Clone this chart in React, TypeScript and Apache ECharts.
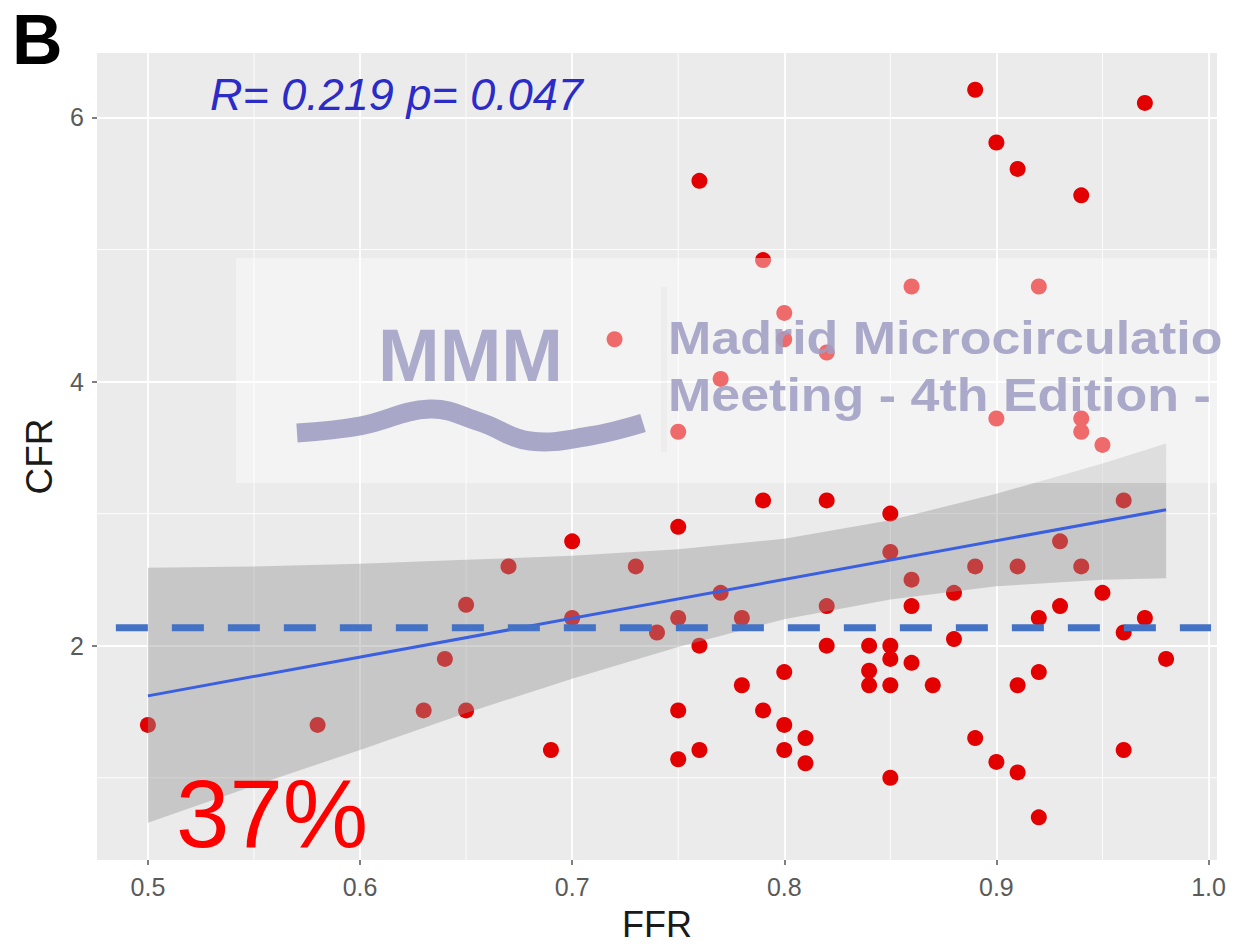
import React, { useEffect, useRef } from "react";
import * as echarts from "echarts";

const FONT = '"Liberation Sans", Arial, Helvetica, sans-serif';

// Scatter data: FFR (x) vs CFR (y)
const ffr = [
  0.50, 0.58, 0.63, 0.65, 0.64, 0.65, 0.67, 0.70, 0.70, 0.69,
  0.79, 0.82, 0.75, 0.85, 0.73, 0.85, 0.93, 0.89, 0.91, 0.94,
  0.96, 0.77, 0.86, 0.88, 0.95, 0.82, 0.86, 0.93, 0.75, 0.78,
  0.92, 0.97, 0.74, 0.96, 0.88, 0.76, 0.82, 0.84, 0.85, 0.85,
  0.86, 0.98, 0.80, 0.84, 0.92, 0.78, 0.84, 0.85, 0.87, 0.91,
  0.75, 0.79, 0.80, 0.81, 0.89, 0.75, 0.76, 0.80, 0.81, 0.96,
  0.90, 0.91, 0.85, 0.92,
  0.89, 0.97, 0.90, 0.91, 0.76, 0.94, 0.79, 0.86, 0.92, 0.80,
  0.72, 0.80, 0.82, 0.77, 0.75, 0.90, 0.94, 0.94, 0.95,
];
const cfr = [
  1.40, 1.40, 1.51, 1.51, 1.90, 2.31, 2.60, 2.79, 2.21, 1.21,
  3.10, 3.10, 2.90, 3.00, 2.60, 2.71, 2.79, 2.60, 2.60, 2.60,
  3.10, 2.40, 2.50, 2.40, 2.40, 2.30, 2.30, 2.30, 2.21, 2.21,
  2.21, 2.21, 2.10, 2.10, 2.05, 2.00, 2.00, 2.00, 2.00, 1.90,
  1.87, 1.90, 1.80, 1.81, 1.80, 1.70, 1.70, 1.70, 1.70, 1.70,
  1.51, 1.51, 1.40, 1.30, 1.30, 1.14, 1.21, 1.21, 1.11, 1.21,
  1.12, 1.04, 1.00, 0.70,
  6.21, 6.11, 5.81, 5.61, 5.52, 5.41, 4.92, 4.72, 4.72, 4.52,
  4.32, 4.32, 4.22, 4.02, 3.62, 3.72, 3.72, 3.62, 3.52,
];

// Axis ticks
const xTicks = [0.5, 0.6, 0.7, 0.8, 0.9, 1.0];
const xMinor = [0.55, 0.65, 0.75, 0.85, 0.95];
const yTicks = [2, 4, 6];
const yMinor = [1, 3, 5];

// Linear fit and its confidence band
const fitX = [0.5, 0.98];
const fitY = [1.62, 3.03];
const bandX = [0.50, 0.55, 0.60, 0.65, 0.70, 0.75, 0.80, 0.85, 0.90, 0.95, 0.98];
const bandUpper = [2.59, 2.60, 2.62, 2.65, 2.68, 2.73, 2.81, 2.95, 3.15, 3.38, 3.53];
const bandLower = [0.66, 0.94, 1.21, 1.49, 1.75, 1.99, 2.20, 2.35, 2.45, 2.50, 2.51];

// Cut-off (dashed) line
const cutoffCFR = 2.135;
const cutoffX = [0.4849, 1.0012];

export default function App() {
  const ref = useRef<HTMLDivElement>(null);

  useEffect(() => {
    const chart = echarts.init(ref.current as HTMLDivElement, null, { renderer: "svg" });
    const points = ffr.map((x, i) => [x, cfr[i]]);

    const option: any = {
      animation: false,
      backgroundColor: "#FFFFFF",
      grid: {
        left: 97,
        right: 17,
        top: 53,
        bottom: 87,
        show: true,
        backgroundColor: "#EBEBEB",
        borderWidth: 0,
        containLabel: false,
        outerBoundsMode: "none",
      },
      xAxis: {
        type: "value",
        min: 0.476,
        max: 1.004,
        axisLine: { show: false },
        axisTick: { show: true, length: 5, customValues: xTicks, lineStyle: { color: "#555555", width: 1.5 } },
        axisLabel: {
          customValues: xTicks,
          formatter: (v: number) => v.toFixed(1),
          color: "#5A5A5A",
          fontSize: 25,
          fontFamily: FONT,
          margin: 14,
        },
        splitLine: { show: true, lineStyle: { color: "#FFFFFF", width: 1.8 } },
        name: "FFR",
        nameLocation: "middle",
        nameGap: 46,
        nameTextStyle: { fontSize: 36, color: "#1A1A1A", fontFamily: FONT },
      },
      yAxis: {
        type: "value",
        min: 0.377,
        max: 6.488,
        axisLine: { show: false },
        axisTick: { show: true, length: 5, customValues: yTicks, lineStyle: { color: "#555555", width: 1.5 } },
        axisLabel: {
          customValues: yTicks,
          color: "#5A5A5A",
          fontSize: 25,
          fontFamily: FONT,
          margin: 13,
        },
        splitLine: { show: true, lineStyle: { color: "#FFFFFF", width: 1.8 } },
        name: "CFR",
        nameLocation: "middle",
        nameGap: 39,
        nameTextStyle: { fontSize: 37, color: "#1A1A1A", fontFamily: FONT },
      },
      series: [
        {
          type: "custom",
          name: "minorX",
          silent: true,
          z: 1,
          data: xMinor.map((v) => [v, yTicks[0]]),
          encode: { x: 0, y: 1 },
          renderItem: (params: any, api: any) => {
            const cs = params.coordSys;
            const px = api.coord([api.value(0), api.value(1)])[0];
            return {
              type: "line",
              shape: { x1: px, y1: cs.y, x2: px, y2: cs.y + cs.height },
              style: { stroke: "#FFFFFF", lineWidth: 0.9 },
            };
          },
        },
        {
          type: "custom",
          name: "minorY",
          silent: true,
          z: 1,
          data: yMinor.map((v) => [xTicks[0], v]),
          encode: { x: 0, y: 1 },
          renderItem: (params: any, api: any) => {
            const cs = params.coordSys;
            const py = api.coord([api.value(0), api.value(1)])[1];
            return {
              type: "line",
              shape: { x1: cs.x, y1: py, x2: cs.x + cs.width, y2: py },
              style: { stroke: "#FFFFFF", lineWidth: 0.9 },
            };
          },
        },
        {
          type: "scatter",
          name: "CFR",
          data: points,
          symbol: "circle",
          symbolSize: 16,
          z: 2,
          itemStyle: { color: "#E30000", opacity: 1 },
        },
        {
          type: "custom",
          name: "band",
          silent: true,
          z: 3,
          data: bandX.map((x, i) => [x, bandLower[i], bandUpper[i]]),
          encode: { x: 0, y: [1, 2] },
          renderItem: (params: any, api: any) => {
            if (params.dataIndex !== 0) return null;
            const pts: number[][] = [];
            for (let i = 0; i < bandX.length; i++) pts.push(api.coord([bandX[i], bandUpper[i]]));
            for (let i = bandX.length - 1; i >= 0; i--) pts.push(api.coord([bandX[i], bandLower[i]]));
            return {
              type: "polygon",
              shape: { points: pts },
              style: { fill: "rgba(150,150,150,0.42)" },
            };
          },
        },
        {
          type: "line",
          name: "fit",
          data: fitX.map((x, i) => [x, fitY[i]]),
          symbol: "none",
          z: 4,
          lineStyle: { color: "#3A5FE0", width: 3 },
        },
        {
          type: "line",
          name: "cutoff",
          data: cutoffX.map((x) => [x, cutoffCFR]),
          symbol: "none",
          z: 5,
          lineStyle: { color: "#4472C4", width: 7, type: [32, 24] },
        },
      ],
      graphic: [
        {
          type: "text",
          x: 12,
          y: 40,
          z: 100,
          style: { text: "B", fontSize: 70, fontWeight: "bold", fontFamily: FONT, fill: "#000000", verticalAlign: "middle", align: "left" },
        },
        {
          type: "text",
          x: 210,
          y: 94,
          z: 100,
          style: { text: "R= 0.219 p= 0.047", fontSize: 45, fontStyle: "italic", fontFamily: FONT, fill: "#2B2BC8", verticalAlign: "middle", align: "left" },
        },
        {
          type: "rect",
          z: 100,
          shape: { x: 236, y: 258, width: 1000, height: 225 },
          style: { fill: "rgba(255,255,255,0.42)" },
        },
        {
          type: "rect",
          z: 100,
          shape: { x: 661, y: 287, width: 6, height: 165 },
          style: { fill: "rgba(0,0,0,0.025)" },
        },
        {
          type: "text",
          x: 378,
          y: 355,
          z: 101,
          style: { text: "MMM", fontSize: 74, fontWeight: "bold", fontFamily: FONT, fill: "rgba(160,158,195,0.85)", verticalAlign: "middle", align: "left" },
        },
        {
          type: "polyline",
          z: 101,
          shape: {
            points: [[297, 433], [360, 426], [430, 409], [480, 422], [530, 441], [590, 436], [643, 423]],
            smooth: 0.4,
          },
          style: { stroke: "rgba(160,158,195,0.9)", lineWidth: 19, fill: null, lineCap: "butt" },
        },
        {
          type: "text",
          x: 668,
          y: 338,
          scaleX: 1.13,
          z: 101,
          style: { text: "Madrid Microcirculatio", fontSize: 46, fontWeight: "bold", fontFamily: FONT, fill: "rgba(160,158,195,0.88)", verticalAlign: "middle", align: "left" },
        },
        {
          type: "text",
          x: 668,
          y: 395,
          scaleX: 1.13,
          z: 101,
          style: { text: "Meeting - 4th Edition -", fontSize: 46, fontWeight: "bold", fontFamily: FONT, fill: "rgba(160,158,195,0.88)", verticalAlign: "middle", align: "left" },
        },
        {
          type: "text",
          x: 176,
          y: 813,
          z: 110,
          style: { text: "37%", fontSize: 96, fontFamily: FONT, fill: "#FF0000", verticalAlign: "middle", align: "left" },
        },
      ],
    };

    chart.setOption(option);
    return () => chart.dispose();
  }, []);

  return (
    <div
      ref={ref}
      style={{ position: "absolute", left: 0, top: 0, width: 1234, height: 947, background: "#FFFFFF" }}
    />
  );
}
